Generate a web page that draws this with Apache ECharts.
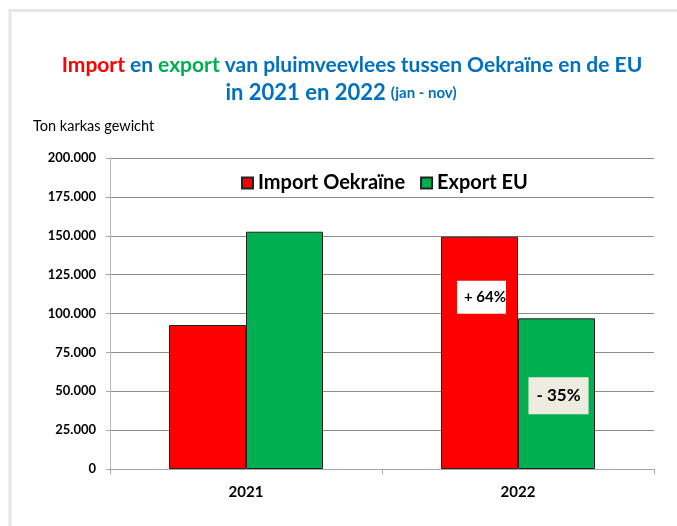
<!DOCTYPE html>
<html>
<head>
<meta charset="utf-8">
<script src="https://cdn.jsdelivr.net/npm/echarts@6/dist/echarts.min.js"></script>
<style>
  html, body { margin: 0; padding: 0; background: #fff; }
  #chart { width: 677px; height: 526px; }
</style>
</head>
<body>
<div id="chart"></div>
<script>
// data
var categories = ["2021", "2022"];
var importUkraine = [92600, 149400];
var exportEU = [152600, 96900];
var changeLabels = ["+ 64%", "- 35%"];
var seriesNames = ["Import Oekraïne", "Export EU"];

var FONT = "Lato";

function fmtThousands(v) {
  return String(v).replace(/\B(?=(\d{3})+(?!\d))/g, ".");
}

var chart = echarts.init(document.getElementById("chart"));

var option = {
  backgroundColor: "#fff",
  animation: false,
  title: [
    {
      text: "{r|Import} {b|en} {g|export} {b|van pluimveevlees tussen Oekraïne en de EU}",
      left: 347,
      top: 50,
      textAlign: "center",
      textStyle: {
        rich: {
          r: { color: "#FF0000", fontFamily: FONT, fontWeight: "bold", fontSize: 21 },
          g: { color: "#00B050", fontFamily: FONT, fontWeight: "bold", fontSize: 21 },
          b: { color: "#0070C0", fontFamily: FONT, fontWeight: "bold", fontSize: 21 }
        }
      }
    },
    {
      text: "{b|in 2021 en 2022} {s|(jan - nov)}",
      left: 336,
      top: 77,
      textAlign: "center",
      textStyle: {
        rich: {
          b: { color: "#0070C0", fontFamily: FONT, fontWeight: "bold", fontSize: 22 },
          s: { color: "#0070C0", fontFamily: FONT, fontWeight: "bold", fontSize: 15 }
        }
      }
    }
  ],
  graphic: [
    {
      type: "rect",
      shape: { x: 10, y: 10.5, width: 720, height: 600 },
      style: { fill: null, stroke: "#E6E6E6", lineWidth: 3 },
      silent: true
    },
    {
      type: "text",
      left: 33,
      top: 119,
      style: { text: "Ton karkas gewicht", fill: "#000", font: "14.5px " + FONT }
    }
  ],
  legend: {
    data: seriesNames,
    top: 168,
    left: 236,
    itemWidth: 11,
    itemHeight: 11,
    itemGap: 15,
    icon: "rect",
    textStyle: { fontFamily: FONT, fontWeight: "bold", fontSize: 20, color: "#000" }
  },
  grid: { left: 110, right: 23, top: 158, bottom: 57, containLabel: false },
  xAxis: {
    type: "category",
    data: categories,
    axisLine: { lineStyle: { color: "#A6A6A6" } },
    axisTick: { show: true, length: 5, lineStyle: { color: "#A6A6A6" } },
    axisLabel: { fontFamily: FONT, fontWeight: "bold", fontSize: 15, color: "#000", margin: 16 }
  },
  yAxis: {
    type: "value",
    min: 0,
    max: 200000,
    interval: 25000,
    axisLine: { show: true, lineStyle: { color: "#B8B8B8" } },
    axisTick: { show: true, length: 4, lineStyle: { color: "#A6A6A6" } },
    axisLabel: {
      fontFamily: FONT, fontWeight: "bold", fontSize: 13, color: "#000", margin: 14,
      formatter: fmtThousands
    },
    splitLine: { lineStyle: { color: "#8C8C8C" } }
  },
  series: [
    {
      name: seriesNames[0],
      type: "bar",
      barWidth: 77,
      barGap: "0%",
      itemStyle: { color: "#FF0000", borderColor: "#222", borderWidth: 1 },
      data: importUkraine.map(function (v, i) {
        if (i === 1) {
          return {
            value: v,
            label: {
              show: true,
              formatter: changeLabels[0],
              position: "insideTop",
              distance: 44,
              offset: [2, 0],
              backgroundColor: "#fff",
              padding: [9, 0, 9, 7],
              fontFamily: FONT, fontWeight: "bold", fontSize: 15, color: "#000"
            }
          };
        }
        return v;
      })
    },
    {
      name: seriesNames[1],
      type: "bar",
      barWidth: 77,
      itemStyle: { color: "#00B050", borderColor: "#222", borderWidth: 1 },
      data: exportEU.map(function (v, i) {
        if (i === 1) {
          return {
            value: v,
            label: {
              show: true,
              formatter: changeLabels[1],
              position: "insideTop",
              distance: 59,
              offset: [2, 0],
              backgroundColor: "#EEEBE0",
              padding: [10, 8, 10, 8],
              fontFamily: FONT, fontWeight: "bold", fontSize: 17, color: "#000"
            }
          };
        }
        return v;
      })
    }
  ]
};

chart.setOption(option);
</script>
</body>
</html>
